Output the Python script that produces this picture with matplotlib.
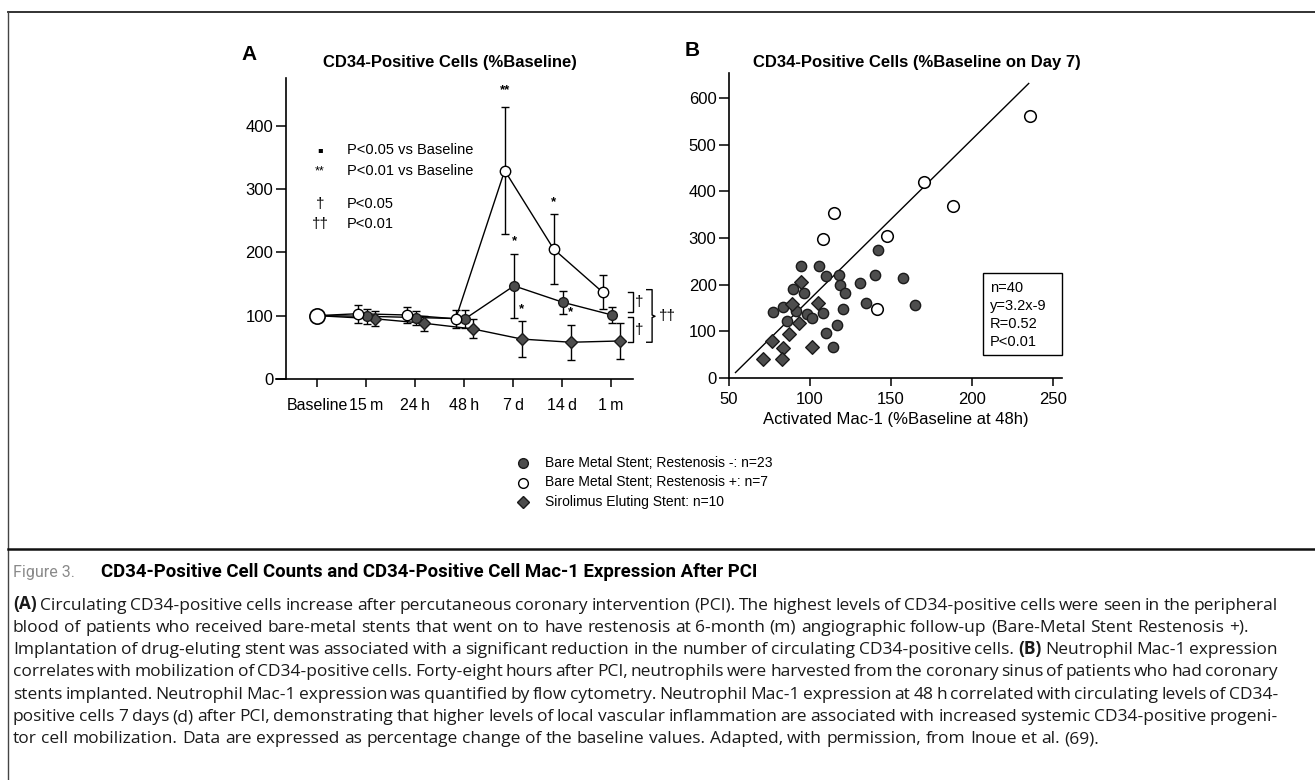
import matplotlib
matplotlib.use("Agg")
import matplotlib.pyplot as plt
import numpy as np
from matplotlib.lines import Line2D
from matplotlib.patches import Rectangle
from matplotlib import font_manager

# ---------------- data ----------------
timepoints = ["Baseline", "15\u2009m", "24\u2009h", "48\u2009h", "7\u2009d", "14\u2009d", "1\u2009m"]

neg_mean = [100, 99, 97, 95, 147, 121, 101]     # BMS restenosis -
neg_err = [0, 12, 11, 14, 50, 18, 13]
pos_mean = [100, 103, 101, 95, 329, 205, 137]   # BMS restenosis +
pos_err = [0, 14, 13, 14, 100, 55, 27]
ses_mean = [100, 95, 88, 79, 63, 58, 60]        # sirolimus eluting
ses_err = [0, 12, 12, 15, 28, 28, 28]

# significance marks: (series, time index, label)
stars = [("pos", 4, "**"), ("neg", 4, "*"), ("ses", 4, "*"), ("pos", 5, "*"), ("ses", 5, "*")]

neg_x = [94.4, 105.7, 109.8, 118, 118.5, 121.6, 120.5, 130.8, 134.5, 89.7, 96.5, 108.2,
         77.3, 83.1, 91.5, 98.3, 101, 86, 109.8, 116.8, 114, 141.8, 140.3, 157.6, 165]
neg_y = [240, 240, 219, 220, 199, 181, 147, 203, 161, 190, 181, 140,
         141, 153, 144, 137, 128, 123, 97, 113, 67, 274, 220, 215, 157]
pos_x = [235.8, 170.4, 188.5, 114.6, 107.8, 147.7, 141.6]
pos_y = [560, 419, 369, 354, 298, 303, 147]
ses_x = [94.4, 105.1, 88.7, 93.4, 87.2, 76.3, 83.5, 101, 71.2, 82.5]
ses_y = [205, 161, 158, 117, 94, 80, 65, 67, 41, 41]

fit_x_range = [54, 235]
fit_slope = 3.42
fit_intercept = -173
stats_lines = ["n=40", "y=3.2x-9", "R=0.52", "P<0.01"]

legend_labels = ["Bare Metal Stent; Restenosis -: n=23",
                 "Bare Metal Stent; Restenosis +: n=7",
                 "Sirolimus Eluting Stent: n=10"]

caption_title = "CD34-Positive Cell Counts and CD34-Positive Cell Mac-1 Expression After PCI"
caption_lines = [
    "(A) Circulating CD34-positive cells increase after percutaneous coronary intervention (PCI). The highest levels of CD34-positive cells were seen in the peripheral",
    "blood of patients who received bare-metal stents that went on to have restenosis at 6-month (m) angiographic follow-up (Bare-Metal Stent Restenosis +).",
    "Implantation of drug-eluting stent was associated with a significant reduction in the number of circulating CD34-positive cells. (B) Neutrophil Mac-1 expression",
    "correlates with mobilization of CD34-positive cells. Forty-eight hours after PCI, neutrophils were harvested from the coronary sinus of patients who had coronary",
    "stents implanted. Neutrophil Mac-1 expression was quantified by flow cytometry. Neutrophil Mac-1 expression at 48 h correlated with circulating levels of CD34-",
    "positive cells 7 days (d) after PCI, demonstrating that higher levels of local vascular inflammation are associated with increased systemic CD34-positive progeni-",
    "tor cell mobilization. Data are expressed as percentage change of the baseline values. Adapted, with permission, from Inoue et al. (69).",
]
justified = [True, False, True, True, True, True, False]

# ---------------- setup ----------------
plt.rcParams["font.family"] = ["Liberation Sans", "DejaVu Sans"]
W, H = 1315, 780
fig = plt.figure(figsize=(W / 100, H / 100), dpi=100)
renderer = fig.canvas.get_renderer()


def fx(x):
    return x / W


def fy(y):
    return 1 - y / H


DARK = "#4d4d4d"
EDGE = "#1a1a1a"

# ---------------- frame lines ----------------
fig.add_artist(Line2D([fx(8), fx(1315)], [fy(12), fy(12)], color="#222", lw=1.3))
fig.add_artist(Line2D([fx(8), fx(8)], [fy(12), fy(780)], color="#444", lw=1.0))
fig.add_artist(Line2D([fx(8), fx(1315)], [fy(549), fy(549)], color="#111", lw=1.8))

# ---------------- panel A ----------------
axA = fig.add_axes([fx(276), fy(379), (633 - 276) / W, (379 - 78) / H])
axA.set_xlim(-0.84, 6.45)
axA.set_ylim(0, 475)
for s in ["top", "right"]:
    axA.spines[s].set_visible(False)
axA.spines["left"].set_position(("data", -0.636))
axA.spines["left"].set_bounds(0, 475)
for s in ["left", "bottom"]:
    axA.spines[s].set_linewidth(1.2)
axA.set_yticks([0, 100, 200, 300, 400])
axA.set_xticks(range(len(timepoints)))
axA.set_xticklabels(timepoints)
axA.tick_params(axis="y", direction="out", length=7, width=1.1, labelsize=12, pad=2)
axA.tick_params(axis="x", direction="out", length=6, width=1.1, labelsize=11.5, pad=8)

series = {
    "ses": (ses_mean, ses_err, 0.18, dict(marker="D", ms=6.5, mfc=DARK, mec=EDGE)),
    "neg": (neg_mean, neg_err, 0.02, dict(marker="o", ms=7, mfc=DARK, mec=EDGE)),
    "pos": (pos_mean, pos_err, -0.17, dict(marker="o", ms=7.5, mfc="white", mec="black")),
}
for key in ["ses", "neg", "pos"]:
    mean, err, off, st = series[key]
    xs = np.arange(len(mean)) + off
    xs[0] = 0
    axA.plot(xs, mean, color="black", lw=1.0, zorder=2)
    axA.errorbar(xs[1:], mean[1:], yerr=err[1:], fmt="none", ecolor="black",
                 elinewidth=1.0, capsize=3.2, capthick=1.0, zorder=3)
    axA.plot(xs[1:], mean[1:], linestyle="none", zorder=4, mew=1.0, **st)
axA.plot([0], [pos_mean[0]], "o", ms=11, mfc="white", mec="black", mew=1.2, zorder=6)

for key, i, lab in stars:
    mean, err, off, st = series[key]
    top = mean[i] + err[i]
    dy = 9 if lab == "*" else 12
    axA.annotate(lab, (i + off, top), xytext=(0, dy), textcoords="offset points",
                 ha="center", va="center", fontsize=9.5, fontweight="bold")

# significance legend inside A
leg_rows = [("\u25aa", "P<0.05 vs Baseline", 150, 6), ("**", "P<0.01 vs Baseline", 171, 9),
            ("\u2020", "P<0.05", 204, 11), ("\u2020\u2020", "P<0.01", 224, 11)]
for sym, txt, y, fs in leg_rows:
    fig.text(fx(320), fy(y), sym, ha="center", va="center", fontsize=fs,
             family=["DejaVu Sans"] if sym == "\u25aa" else ["Liberation Sans", "DejaVu Sans"])
    fig.text(fx(347), fy(y), txt, ha="left", va="center", fontsize=10.5)

# brackets at right of A
bracket_specs = [((6.35, 6.45), (106, 137)), ((6.35, 6.45), (58, 98))]
for (x0, x1), (y0, y1) in bracket_specs:
    axA.plot([x0, x1, x1, x0], [y1, y1, y0, y0], color="black", lw=1.0, clip_on=False)
    axA.text(x1 + 0.12, (y0 + y1) / 2, "\u2020", ha="center", va="center", fontsize=11)
axA.plot([6.73, 6.84, 6.84, 6.90, 6.84, 6.84, 6.73],
         [141, 141, 101, 99, 97, 58, 58], color="black", lw=1.0, clip_on=False)
axA.text(7.16, 99, "\u2020\u2020", ha="center", va="center", fontsize=11)

fig.text(fx(249), fy(55), "A", ha="center", va="center", fontsize=15, fontweight="bold")
fig.text(fx(450), fy(63), "CD34-Positive Cells (%Baseline)", ha="center", va="center",
         fontsize=12, fontweight="bold")

# ---------------- panel B ----------------
axB = fig.add_axes([fx(729), fy(378), (1062 - 729) / W, (378 - 73) / H])
axB.set_xlim(50, 50 + (1062 - 729) / 1.62)
axB.set_ylim(0, (378 - 73) / 0.467)
for s in ["top", "right"]:
    axB.spines[s].set_visible(False)
for s in ["left", "bottom"]:
    axB.spines[s].set_linewidth(1.2)
axB.set_xticks([50, 100, 150, 200, 250])
axB.set_yticks([0, 100, 200, 300, 400, 500, 600])
axB.tick_params(axis="y", direction="out", length=7, width=1.1, labelsize=12, pad=2)
axB.tick_params(axis="x", direction="out", length=6, width=1.1, labelsize=12, pad=4)

fx_line = np.array(fit_x_range, dtype=float)
axB.plot(fx_line, fit_slope * fx_line + fit_intercept, color="black", lw=1.0, zorder=2)
axB.scatter(neg_x, neg_y, s=55, marker="o", facecolor=DARK, edgecolor=EDGE, lw=1.0, zorder=3)
axB.scatter(ses_x, ses_y, s=48, marker="D", facecolor=DARK, edgecolor=EDGE, lw=1.0, zorder=4)
axB.scatter(pos_x, pos_y, s=70, marker="o", facecolor="white", edgecolor="black", lw=1.1, zorder=5)
axB.set_xlabel("Activated Mac-1 (%Baseline at 48h)", fontsize=12, labelpad=4)

fig.add_artist(Rectangle((fx(983), fy(355)), (1062 - 983) / W, (355 - 273) / H,
                         transform=fig.transFigure, fill=False, edgecolor="black", lw=1.0))
for i, s in enumerate(stats_lines):
    fig.text(fx(990), fy(288 + 18 * i), s, ha="left", va="center", fontsize=10.5)

fig.text(fx(692), fy(51), "B", ha="center", va="center", fontsize=15, fontweight="bold")
fig.text(fx(917), fy(62), "CD34-Positive Cells (%Baseline on Day 7)", ha="center",
         va="center", fontsize=12, fontweight="bold")

# ---------------- bottom legend ----------------
leg_styles = [dict(marker="o", ms=7, mfc=DARK, mec=EDGE),
              dict(marker="o", ms=7, mfc="white", mec="black"),
              dict(marker="D", ms=6.5, mfc=DARK, mec=EDGE)]
for i, (lab, st) in enumerate(zip(legend_labels, leg_styles)):
    y = 463 + 19.5 * i
    fig.add_artist(Line2D([fx(523)], [fy(y)], linestyle="none", mew=1.0,
                          transform=fig.transFigure, **st))
    fig.text(fx(545), fy(y), lab, ha="left", va="center", fontsize=10)

# ---------------- caption ----------------
def text_width(s, **kw):
    t = fig.text(0, 0, s, **kw)
    w = t.get_window_extent(renderer).width
    t.remove()
    return w


def pick(fams):
    for f in fams:
        try:
            font_manager.findfont(font_manager.FontProperties(family=f), fallback_to_default=False)
            return f
        except Exception:
            continue
    return "DejaVu Sans"


body_font = pick(["Open Sans", "Noto Sans", "Liberation Sans"])
head_font = pick(["Liberation Sans Narrow", "Roboto", "Liberation Sans"])

fig.text(fx(13), fy(572), "Figure 3.", ha="left", va="center", fontsize=11.5,
         color="#8a8a8a", family=[head_font, "DejaVu Sans"])
hw = text_width(caption_title, fontsize=10, fontweight="bold", family=[head_font, "DejaVu Sans"])
hsize = 10 * 657 / hw
fig.text(fx(101), fy(572), caption_title, ha="left", va="center", fontsize=hsize,
         fontweight="bold", family=[head_font, "DejaVu Sans"])

# body size chosen so that the last (unjustified) line ends where it does in the figure
lw_last = text_width(caption_lines[-1], fontsize=10, family=[body_font, "DejaVu Sans"])
bsize = 10 * (1100 - 13) / lw_last
bold_tokens = {"(A)", "(B)"}
space_w = text_width("a a", fontsize=bsize, family=[body_font]) - text_width("aa", fontsize=bsize, family=[body_font])
x_left, x_right = 13, 1278
for li, line in enumerate(caption_lines):
    y = 609.5 + 22.3 * li   # baseline position
    words = line.split(" ")
    kws = [dict(fontsize=bsize, family=[body_font, "DejaVu Sans"],
                fontweight="bold" if w in bold_tokens else "normal", color="#1a1a1a") for w in words]
    widths = [text_width(w, **k) for w, k in zip(words, kws)]
    if justified[li] and len(words) > 1:
        gap = (x_right - x_left - sum(widths)) / (len(words) - 1)
    else:
        gap = space_w
    x = x_left
    for w, k, wd in zip(words, kws, widths):
        fig.text(fx(x), fy(y), w, ha="left", va="baseline", **k)
        x += wd + gap

fig.savefig("out.png", dpi=100)
